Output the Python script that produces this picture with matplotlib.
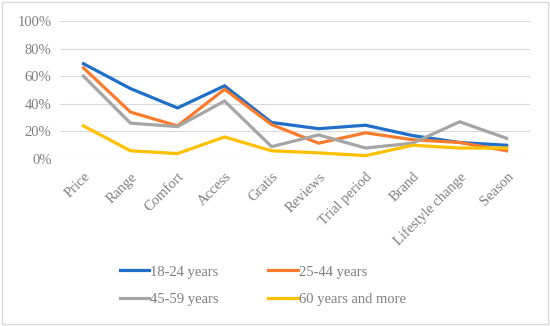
import matplotlib.pyplot as plt
from matplotlib.patches import Rectangle

categories = ['Price', 'Range', 'Comfort', 'Access', 'Gratis', 'Reviews',
              'Trial period', 'Brand', 'Lifestyle change', 'Season']
age_18_24 = [69, 51, 37, 53, 26.5, 22, 24.5, 17, 12, 10]
age_25_44 = [66, 34, 24, 50.5, 25, 11.5, 19, 14, 12, 6]
age_45_59 = [60, 26, 23.5, 42, 9, 17.5, 8, 11.5, 27, 15]
age_60_up = [24, 6, 4, 16, 6, 4.5, 2.5, 10, 8, 8]
series_names = ['18-24 years', '25-44 years', '45-59 years', '60 years and more']
colors = ['#1f6fc8', '#f97b2b', '#a5a5a5', '#ffc000']

plt.rcParams['font.family'] = ['Liberation Serif', 'DejaVu Serif']
text_color = '#7f7f7f'

fig = plt.figure(figsize=(5.5, 3.26), dpi=100)
ax = fig.add_axes([0.109, 0.512, 0.855, 0.424])

x = range(len(categories))
lines = []
for vals, name, c in zip([age_18_24, age_25_44, age_45_59, age_60_up], series_names, colors):
    ln, = ax.plot(x, [v / 100 for v in vals], color=c, lw=2.3, label=name, solid_joinstyle='miter')
    lines.append(ln)

ax.set_xlim(-0.5, len(categories) - 0.5)
ax.set_ylim(0, 1)
ax.set_yticks([0, 0.2, 0.4, 0.6, 0.8, 1.0])
ax.set_yticklabels(['0%', '20%', '40%', '60%', '80%', '100%'])
ax.set_xticks(list(x))
ax.set_xticklabels(categories, rotation=45, ha='right', rotation_mode='anchor')
ax.tick_params(axis='both', length=0, labelsize=10.5, colors=text_color)
ax.tick_params(axis='x', pad=8)
ax.tick_params(axis='y', pad=6)
ax.grid(axis='y', color='#d9d9d9', lw=0.8)
ax.set_axisbelow(True)
for s in ax.spines.values():
    s.set_visible(False)
ax.axhline(0, color='#d9d9d9', lw=0.8, zorder=0)

# row order: 18-24, 25-44 / 45-59, 60+
order = [0, 2, 1, 3]
leg = fig.legend([lines[i] for i in order], [series_names[i] for i in order],
                 loc='lower center', bbox_to_anchor=(0.478, 0.02), ncol=2, frameon=False,
                 fontsize=10.5, handlelength=2.0, handletextpad=0.1, columnspacing=3.4,
                 labelspacing=1.0)
for t in leg.get_texts():
    t.set_color(text_color)

fig.patches.append(Rectangle((0.004, 0.006), 0.992, 0.988, transform=fig.transFigure,
                             fill=False, edgecolor='#d9d9d9', lw=1))

fig.savefig('out.png', dpi=100, facecolor='white')
